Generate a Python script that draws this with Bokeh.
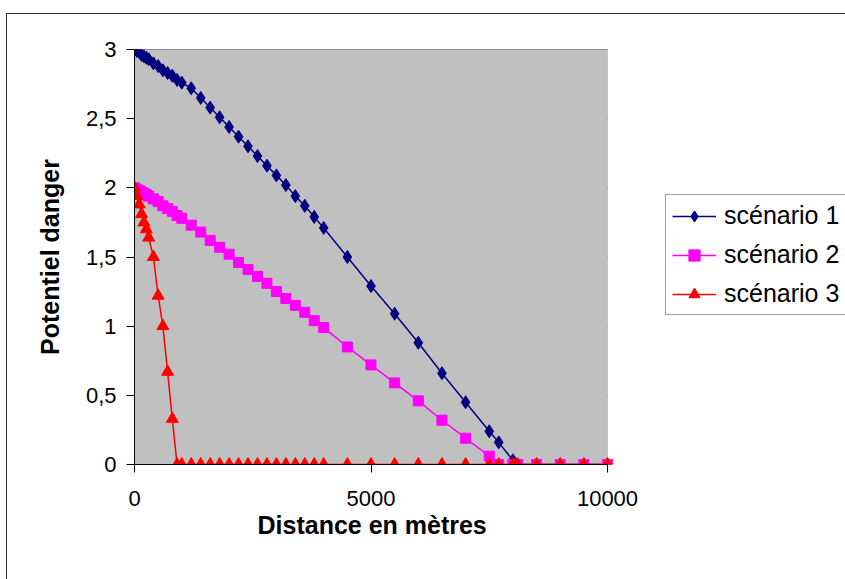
from bokeh.plotting import figure
from bokeh.models import (Range1d, Legend, LegendItem, FixedTicker, BoxAnnotation,
                          CustomJSTickFormatter, Title)
from bokeh.embed import file_html
from bokeh.resources import INLINE

# ---- data ----
distance = [0, 50, 100, 150, 200, 250, 300, 400, 500, 600, 700, 800, 900, 1000,
            1200, 1400, 1600, 1800, 2000, 2200, 2400, 2600, 2800, 3000, 3200, 3400,
            3600, 3800, 4000, 4500, 5000, 5500, 6000, 6500, 7000, 7500, 7700, 8000,
            8100, 8500, 9000, 9500, 10000]
scenario1 = [3.00, 2.99, 2.98, 2.96, 2.95, 2.94, 2.93, 2.90, 2.88, 2.85, 2.83, 2.81, 2.78, 2.76,
             2.72, 2.65, 2.58, 2.51, 2.44, 2.37, 2.30, 2.23, 2.16, 2.09, 2.02, 1.94,
             1.87, 1.79, 1.71, 1.50, 1.29, 1.09, 0.88, 0.66, 0.45, 0.24, 0.16, 0.03,
             0, 0, 0, 0, 0]
scenario2 = [2.00, 1.99, 1.98, 1.97, 1.96, 1.95, 1.94, 1.92, 1.90, 1.87, 1.85, 1.83, 1.80, 1.78,
             1.73, 1.68, 1.62, 1.57, 1.52, 1.46, 1.41, 1.36, 1.31, 1.25, 1.20, 1.15,
             1.10, 1.04, 0.99, 0.85, 0.72, 0.59, 0.46, 0.32, 0.19, 0.06, 0, 0,
             0, 0, 0, 0, 0]
scenario3 = [2.00, 1.94, 1.88, 1.81, 1.75, 1.70, 1.64, 1.50, 1.22, 1.00, 0.67, 0.33, 0, 0,
             0, 0, 0, 0, 0, 0, 0, 0, 0, 0, 0, 0,
             0, 0, 0, 0, 0, 0, 0, 0, 0, 0, 0, 0,
             0, 0, 0, 0, 0]
series_names = ["scénario 1", "scénario 2", "scénario 3"]
x_ticks = [0, 5000, 10000]
y_ticks = [0, 0.5, 1, 1.5, 2, 2.5, 3]
x_min, x_max = 0, 10000
y_min, y_max = 0, 3
x_title = "Distance en mètres"
y_title = "Potentiel danger"

FONT = "Liberation Sans"
W, H = 845, 579
LEFT, TOP, PLOT_W, PLOT_H = 134, 49, 473, 415
# the frame extends to the right edge so the legend can sit inside it;
# the data area (0..10000) keeps its 473 px width
x_end = x_max * (W - LEFT) / PLOT_W

p = figure(width=W, height=H, output_backend="svg", toolbar_location=None,
           x_range=Range1d(x_min, x_end), y_range=Range1d(y_min, y_max),
           min_border_left=LEFT, min_border_right=0, min_border_top=TOP,
           min_border_bottom=H - TOP - PLOT_H)

p.background_fill_color = None
p.border_fill_color = None
p.outline_line_color = None
# outer chart border (only its left and top edges fall inside the window)
p.styles = {
    "background-color": "white",
    "background-image": "linear-gradient(#333333, #333333), linear-gradient(#333333, #333333)",
    "background-size": "1px 100%, 100% 1px",
    "background-position": "6px 13px, 6px 13px",
    "background-repeat": "no-repeat",
}

# plot area
plot_area = BoxAnnotation(left=x_min, right=x_max, bottom=y_min, top=y_max,
                          fill_color="#C0C0C0", fill_alpha=1,
                          line_color="#808080", line_width=1, level="underlay")
p.add_layout(plot_area)

p.xgrid.visible = False
p.ygrid.visible = False
p.segment(x0=[x_min] * len(y_ticks), x1=[x_max] * len(y_ticks), y0=y_ticks, y1=y_ticks,
          line_color="black", line_width=1, level="underlay")

for ax in (p.xaxis[0], p.yaxis[0]):
    ax.axis_line_color = "black"
    ax.axis_line_width = 1
    ax.major_tick_line_color = "black"
    ax.major_tick_out = 8
    ax.major_tick_in = 0
    ax.minor_tick_line_color = None
    ax.major_label_text_font = FONT
    ax.major_label_text_font_size = "22px"
    ax.major_label_text_color = "black"
    ax.axis_label_text_font = FONT
    ax.axis_label_text_font_size = "25px"
    ax.axis_label_text_font_style = "bold"
    ax.axis_label_text_color = "black"

p.xaxis.bounds = (x_min, x_max)
p.xaxis.ticker = FixedTicker(ticks=x_ticks)
p.yaxis.ticker = FixedTicker(ticks=y_ticks)
p.yaxis.formatter = CustomJSTickFormatter(code="return String(tick).replace('.', ',');")
p.xaxis.major_label_standoff = 18
p.yaxis.major_label_standoff = 10
p.yaxis.axis_label = y_title
p.yaxis.axis_label_standoff = 19

# x-axis title centred under the data area (not the whole frame)
xt = Title(text=x_title, align="left", offset=123, standoff=0,
           text_font=FONT, text_font_size="25px", text_font_style="bold",
           text_color="black")
p.add_layout(xt, "below")

colors = ["#000080", "#FF00FF", "#FF0000"]
markers = ["diamond", "square", "triangle"]
sizes = [13, 10, 12]
items = []
for ys, name, c, m, s in zip([scenario1, scenario2, scenario3], series_names, colors, markers, sizes):
    l = p.line(distance, ys, line_color=c, line_width=1.5)
    sc = p.scatter(distance, ys, marker=m, size=s, fill_color=c, line_color=c)
    items.append(LegendItem(label=name, renderers=[l, sc]))

legend = Legend(items=items, location=(665 - LEFT, TOP + PLOT_H - 315),
                label_text_font=FONT, label_text_font_size="25px",
                label_text_color="black",
                border_line_color="#404040", border_line_width=1,
                background_fill_color="white", background_fill_alpha=1,
                glyph_width=44, glyph_height=28, label_height=28,
                spacing=10, padding=6, margin=0, label_standoff=8)
p.add_layout(legend, "center")

open("out.html", "w").write(file_html(p, INLINE))
